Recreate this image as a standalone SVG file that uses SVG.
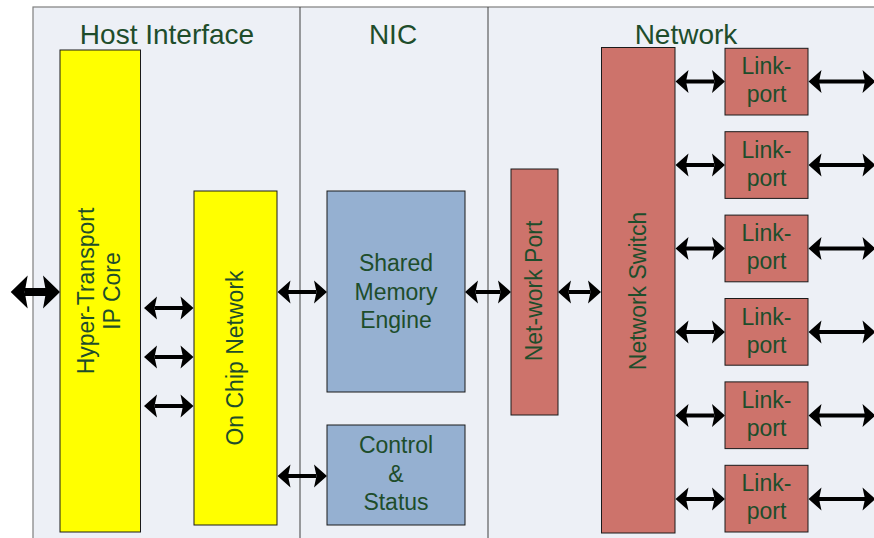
<svg xmlns="http://www.w3.org/2000/svg" width="874" height="538" viewBox="0 0 874 538">
  <defs>
    <style>
      .panel { fill: #EDF0F6; stroke: #7F7F7F; stroke-width: 1.2; }
      .divider { stroke: #404040; stroke-width: 1; }
      .box { stroke: #1A1A1A; stroke-width: 1; }
      .yellow { fill: #FFFF00; }
      .blue { fill: #95B0D1; }
      .red { fill: #CD736B; }
      text { font-family: "Liberation Sans", Arial, sans-serif; fill: #1E4D2B; text-anchor: middle; }
      .title { font-size: 28px; }
      .label { font-size: 23px; }
      .link { stroke: #000; stroke-width: 4; fill: none; marker-start: url(#head); marker-end: url(#head); }
      .bus { stroke: #000; stroke-width: 8; fill: none; marker-start: url(#headBig); marker-end: url(#headBig); }
    </style>
    <marker id="head" markerUnits="userSpaceOnUse" markerWidth="14" markerHeight="24" refX="2.5" refY="11.5" orient="auto-start-reverse" overflow="visible">
      <path d="M0,0 L13,11.5 L0,23 L2.5,11.5 Z" fill="#000"/>
    </marker>
    <marker id="headBig" markerUnits="userSpaceOnUse" markerWidth="18" markerHeight="34" refX="3" refY="16.5" orient="auto-start-reverse" overflow="visible">
      <path d="M0,0 L17,16.5 L0,33 L3,16.5 Z" fill="#000"/>
    </marker>
  </defs>

  <!-- background panel with section dividers -->
  <rect class="panel" x="33" y="7" width="860" height="545"/>
  <line class="divider" x1="300" y1="7" x2="300" y2="538"/>
  <line class="divider" x1="488" y1="7" x2="488" y2="538"/>

  <!-- section titles -->
  <text class="title" x="167" y="43.5">Host Interface</text>
  <text class="title" x="393" y="43.5">NIC</text>
  <text class="title" x="686" y="43.5">Network</text>

  <!-- connectors -->
  <g id="connectors">
    <line class="bus" x1="24.7" y1="292" x2="46" y2="292"/>
    <line class="link" x1="154.5" y1="308" x2="183" y2="308"/>
    <line class="link" x1="154.5" y1="357" x2="183" y2="357"/>
    <line class="link" x1="154.5" y1="406" x2="183" y2="406"/>
    <line class="link" x1="288" y1="292" x2="316.5" y2="292"/>
    <line class="link" x1="288" y1="476" x2="316.5" y2="476"/>
    <line class="link" x1="475.5" y1="292" x2="500.5" y2="292"/>
    <line class="link" x1="568.5" y1="292" x2="590.5" y2="292"/>
    <line class="link" x1="686" y1="81.5" x2="714.5" y2="81.5"/>
    <line class="link" x1="686" y1="165" x2="714.5" y2="165"/>
    <line class="link" x1="686" y1="248.5" x2="714.5" y2="248.5"/>
    <line class="link" x1="686" y1="332" x2="714.5" y2="332"/>
    <line class="link" x1="686" y1="415.5" x2="714.5" y2="415.5"/>
    <line class="link" x1="686" y1="499" x2="714.5" y2="499"/>
    <line class="link" x1="819" y1="81.5" x2="865" y2="81.5"/>
    <line class="link" x1="819" y1="165" x2="865" y2="165"/>
    <line class="link" x1="819" y1="248.5" x2="865" y2="248.5"/>
    <line class="link" x1="819" y1="332" x2="865" y2="332"/>
    <line class="link" x1="819" y1="415.5" x2="865" y2="415.5"/>
    <line class="link" x1="819" y1="499" x2="865" y2="499"/>
  </g>

  <!-- Host interface -->
  <g id="ht-core">
    <rect class="box yellow" x="60" y="50" width="80.5" height="482"/>
    <text class="label" transform="translate(93.5,291) rotate(-90)">Hyper-Transport</text>
    <text class="label" transform="translate(120,291) rotate(-90)">IP Core</text>
  </g>
  <g id="on-chip-network">
    <rect class="box yellow" x="194" y="191" width="83" height="334"/>
    <text class="label" transform="translate(243,358) rotate(-90)">On Chip Network</text>
  </g>

  <!-- NIC -->
  <g id="shared-memory-engine">
    <rect class="box blue" x="327" y="191" width="138" height="201"/>
    <text class="label" x="396" y="271">Shared</text>
    <text class="label" x="396" y="299.5">Memory</text>
    <text class="label" x="396" y="328">Engine</text>
  </g>
  <g id="control-status">
    <rect class="box blue" x="327" y="425" width="138" height="100"/>
    <text class="label" x="396" y="453">Control</text>
    <text class="label" x="396" y="482">&amp;</text>
    <text class="label" x="396" y="510">Status</text>
  </g>

  <!-- Network -->
  <g id="network-port">
    <rect class="box red" x="511" y="169" width="47" height="246"/>
    <text class="label" transform="translate(541.5,291) rotate(-90)">Net-work Port</text>
  </g>
  <g id="network-switch">
    <rect class="box red" x="601.5" y="47.5" width="73.5" height="485.5"/>
    <text class="label" transform="translate(646,291) rotate(-90)">Network Switch</text>
  </g>
  <g id="link-port-1">
    <rect class="box red" x="725" y="48.3" width="83" height="66.7"/>
    <text class="label" x="766.5" y="74.3">Link-</text>
    <text class="label" x="766.5" y="102.3">port</text>
  </g>
  <g id="link-port-2">
    <rect class="box red" x="725" y="131.7" width="83" height="66.7"/>
    <text class="label" x="766.5" y="157.7">Link-</text>
    <text class="label" x="766.5" y="185.7">port</text>
  </g>
  <g id="link-port-3">
    <rect class="box red" x="725" y="215.1" width="83" height="66.7"/>
    <text class="label" x="766.5" y="241.1">Link-</text>
    <text class="label" x="766.5" y="269.1">port</text>
  </g>
  <g id="link-port-4">
    <rect class="box red" x="725" y="298.5" width="83" height="66.7"/>
    <text class="label" x="766.5" y="324.5">Link-</text>
    <text class="label" x="766.5" y="352.5">port</text>
  </g>
  <g id="link-port-5">
    <rect class="box red" x="725" y="381.9" width="83" height="66.7"/>
    <text class="label" x="766.5" y="407.9">Link-</text>
    <text class="label" x="766.5" y="435.9">port</text>
  </g>
  <g id="link-port-6">
    <rect class="box red" x="725" y="465.3" width="83" height="66.7"/>
    <text class="label" x="766.5" y="491.3">Link-</text>
    <text class="label" x="766.5" y="519.3">port</text>
  </g>
</svg>
